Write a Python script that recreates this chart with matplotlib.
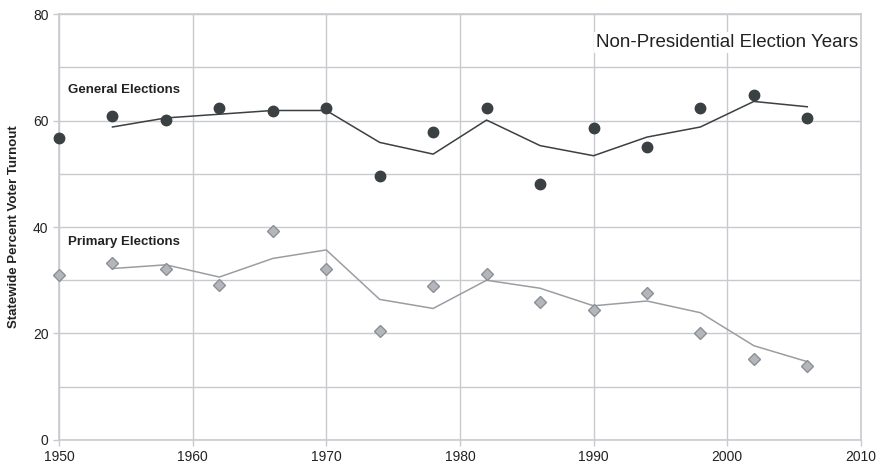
import matplotlib.pyplot as plt
from matplotlib.ticker import MultipleLocator

plt.rcParams['font.family'] = ['Liberation Sans', 'DejaVu Sans']

# Election years (non-presidential)
years = [1950, 1954, 1958, 1962, 1966, 1970, 1974, 1978,
         1982, 1986, 1990, 1994, 1998, 2002, 2006]

# Turnout
general = [56.8, 60.8, 60.1, 62.3, 61.8, 62.3, 49.5, 57.9,
           62.3, 48.1, 58.7, 55.1, 62.3, 64.8, 60.4]
primary = [30.9, 33.3, 32.2, 29.1, 39.2, 32.2, 20.4, 28.9,
           31.1, 25.9, 24.5, 27.6, 20.1, 15.2, 13.9]

# Trend lines (two-period moving average), start at 1954
trend_years = years[1:]
general_trend = [58.8, 60.5, 61.2, 61.9, 61.9, 55.9, 53.7,
                 60.1, 55.3, 53.4, 56.9, 58.8, 63.6, 62.6]
primary_trend = [32.2, 32.9, 30.6, 34.1, 35.7, 26.4, 24.7,
                 30.0, 28.5, 25.2, 26.1, 23.9, 17.7, 14.7]

GEN_COLOR = '#3b4043'
PRI_FILL = '#b3b6bb'
PRI_EDGE = '#8c9095'
PRI_LINE = '#9a9ea3'
GRID_COLOR = '#c9cacf'
TEXT_COLOR = '#222222'

fig = plt.figure(figsize=(8.81, 4.72), dpi=100)
ax = fig.add_axes([0.067, 0.068, 0.910, 0.902])

ax.plot(trend_years, general_trend, color=GEN_COLOR, linewidth=1.1, zorder=3)
ax.plot(years, general, linestyle='none', marker='o', markersize=7.5,
        color=GEN_COLOR, zorder=4, clip_on=False)
ax.plot(trend_years, primary_trend, color=PRI_LINE, linewidth=1.1, zorder=3)
ax.plot(years, primary, linestyle='none', marker='D', markersize=6,
        markerfacecolor=PRI_FILL, markeredgecolor=PRI_EDGE,
        markeredgewidth=1.0, zorder=4, clip_on=False)

ax.set_xlim(1950, 2010)
ax.set_ylim(0, 80)
ax.xaxis.set_major_locator(MultipleLocator(10))
ax.yaxis.set_major_locator(MultipleLocator(20))
ax.yaxis.set_minor_locator(MultipleLocator(10))
ax.grid(which='both', color=GRID_COLOR, linewidth=1.0)
ax.set_axisbelow(True)
ax.tick_params(which='major', length=4, color=GRID_COLOR, labelsize=10,
               labelcolor=TEXT_COLOR, width=1.0)
ax.tick_params(which='minor', length=0)
for spine in ax.spines.values():
    spine.set_color(GRID_COLOR)
    spine.set_linewidth(1.2)

ax.set_ylabel('Statewide Percent Voter Turnout', fontsize=9.5, fontweight='bold',
              color=TEXT_COLOR, labelpad=9)

ax.text(1950.7, 65.7, 'General Elections', fontsize=9.5, fontweight='bold',
        color=TEXT_COLOR, va='center')
ax.text(1950.7, 37.1, 'Primary Elections', fontsize=9.5, fontweight='bold',
        color=TEXT_COLOR, va='center')
ax.text(2009.8, 74.7, 'Non-Presidential Election Years', fontsize=13.5,
        color=TEXT_COLOR, ha='right', va='center',
        bbox=dict(facecolor='white', edgecolor='none', pad=1.5))

fig.savefig('out.png', dpi=100)
